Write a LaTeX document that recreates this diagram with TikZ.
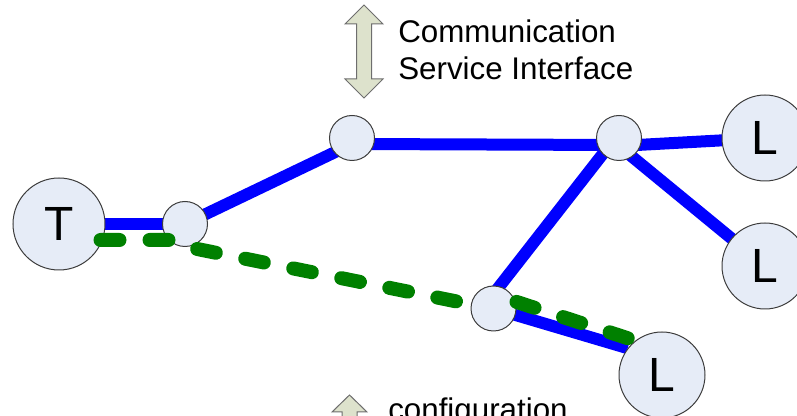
\documentclass[tikz,border=0pt]{standalone}
\usepackage{fontspec}
\setmainfont{Liberation Sans}
\usepackage{tikz}
\usetikzlibrary{backgrounds,calc}
\definecolor{netblue}{HTML}{0000FF}
\definecolor{netgreen}{HTML}{008000}
\definecolor{netfill}{HTML}{E6ECF7}
\definecolor{netline}{HTML}{3C3C3C}
\definecolor{arrfill}{HTML}{DDE2CC}
\definecolor{arrline}{HTML}{6E6E6E}

\begin{document}
\begin{tikzpicture}[
    x=0.75pt,y=-0.75pt,
    relay/.style = {circle, draw=netline, line width=0.75pt, fill=netfill,
                    inner sep=0pt, minimum size=33.75pt},
    endpt/.style = {circle, draw=netline, line width=0.75pt, fill=netfill,
                    inner sep=0pt, minimum size=64.5pt,
                    font=\fontsize{36}{40}\selectfont},
    link/.style  = {netblue, line width=9pt},
    route/.style = {netgreen, line width=10.5pt, line cap=round,
                    dash pattern=on 14.25pt off 22.5pt},
    blk/.style   = {draw=arrline, line width=0.75pt, fill=arrfill},
    txt/.style   = {font=\fontsize{23.5}{27.5}\selectfont, inner sep=0pt,
                    align=left},
  ]
  \useasboundingbox (0,0) rectangle (797,416);

  \node[endpt, minimum size=69pt] (tx) at (59,224) {T};
  \node[relay] (sw1) at (185,224)     {};
  \node[relay] (sw2) at (352,138)     {};
  \node[relay] (sw3) at (619,138)     {};
  \node[relay] (sw4) at (493.5,308.5) {};
  \node[endpt] (lA)  at (765,138)     {L};
  \node[endpt] (lB)  at (765,266)     {L};
  \node[endpt] (lC)  at (662,375)     {L};

  \begin{scope}[on background layer]
    \draw[link] (tx.center) -- (sw1.center);
    \draw[link] (sw1.center) -- ([yshift=-4.5pt]sw2.center);
    \draw[link] ([yshift=-4.5pt]sw2.center) -- ([yshift=-5.25pt]sw3.center);
    \draw[link] ([yshift=-6pt]sw3.center) -- (lA.center);
    \draw[link] ([yshift=-6pt]sw3.center) -- (lB.center);
    \draw[link] ([xshift=-7.5pt,yshift=-6pt]sw3.center) -- ([xshift=-8.5pt]sw4.center);
    \draw[link] (sw4.center) -- (lC.142);
  \end{scope}

  \coordinate (r0) at (100.5,240);
  \coordinate (r1) at (170,240);
  \coordinate (r2) at (197.2,249);
  \coordinate (r3) at (459.3,302);
  \coordinate (r4) at (516.5,301.9);
  \coordinate (r5) at (628,338.3);
  \draw[route] (r0) -- (r1) (r2) -- (r3) (r4) -- (r5);

  \draw[blk] (364,5) -- (383,24) -- (371.5,24) -- (371.5,79) -- (383,79)
        -- (364,98) -- (345,79) -- (356.5,79) -- (356.5,24) -- (345,24) -- cycle;
  \node[txt, anchor=north west] (csi) at (398,20) {Communication\\Service Interface};

  \draw[blk] (349.5,395) -- (367,412) -- (357,412) -- (357,430) -- (342,430)
        -- (342,412) -- (332,412) -- cycle;
  \node[txt, anchor=base west] (cfg) at (388,421) {configuration};

\end{tikzpicture}
\end{document}
